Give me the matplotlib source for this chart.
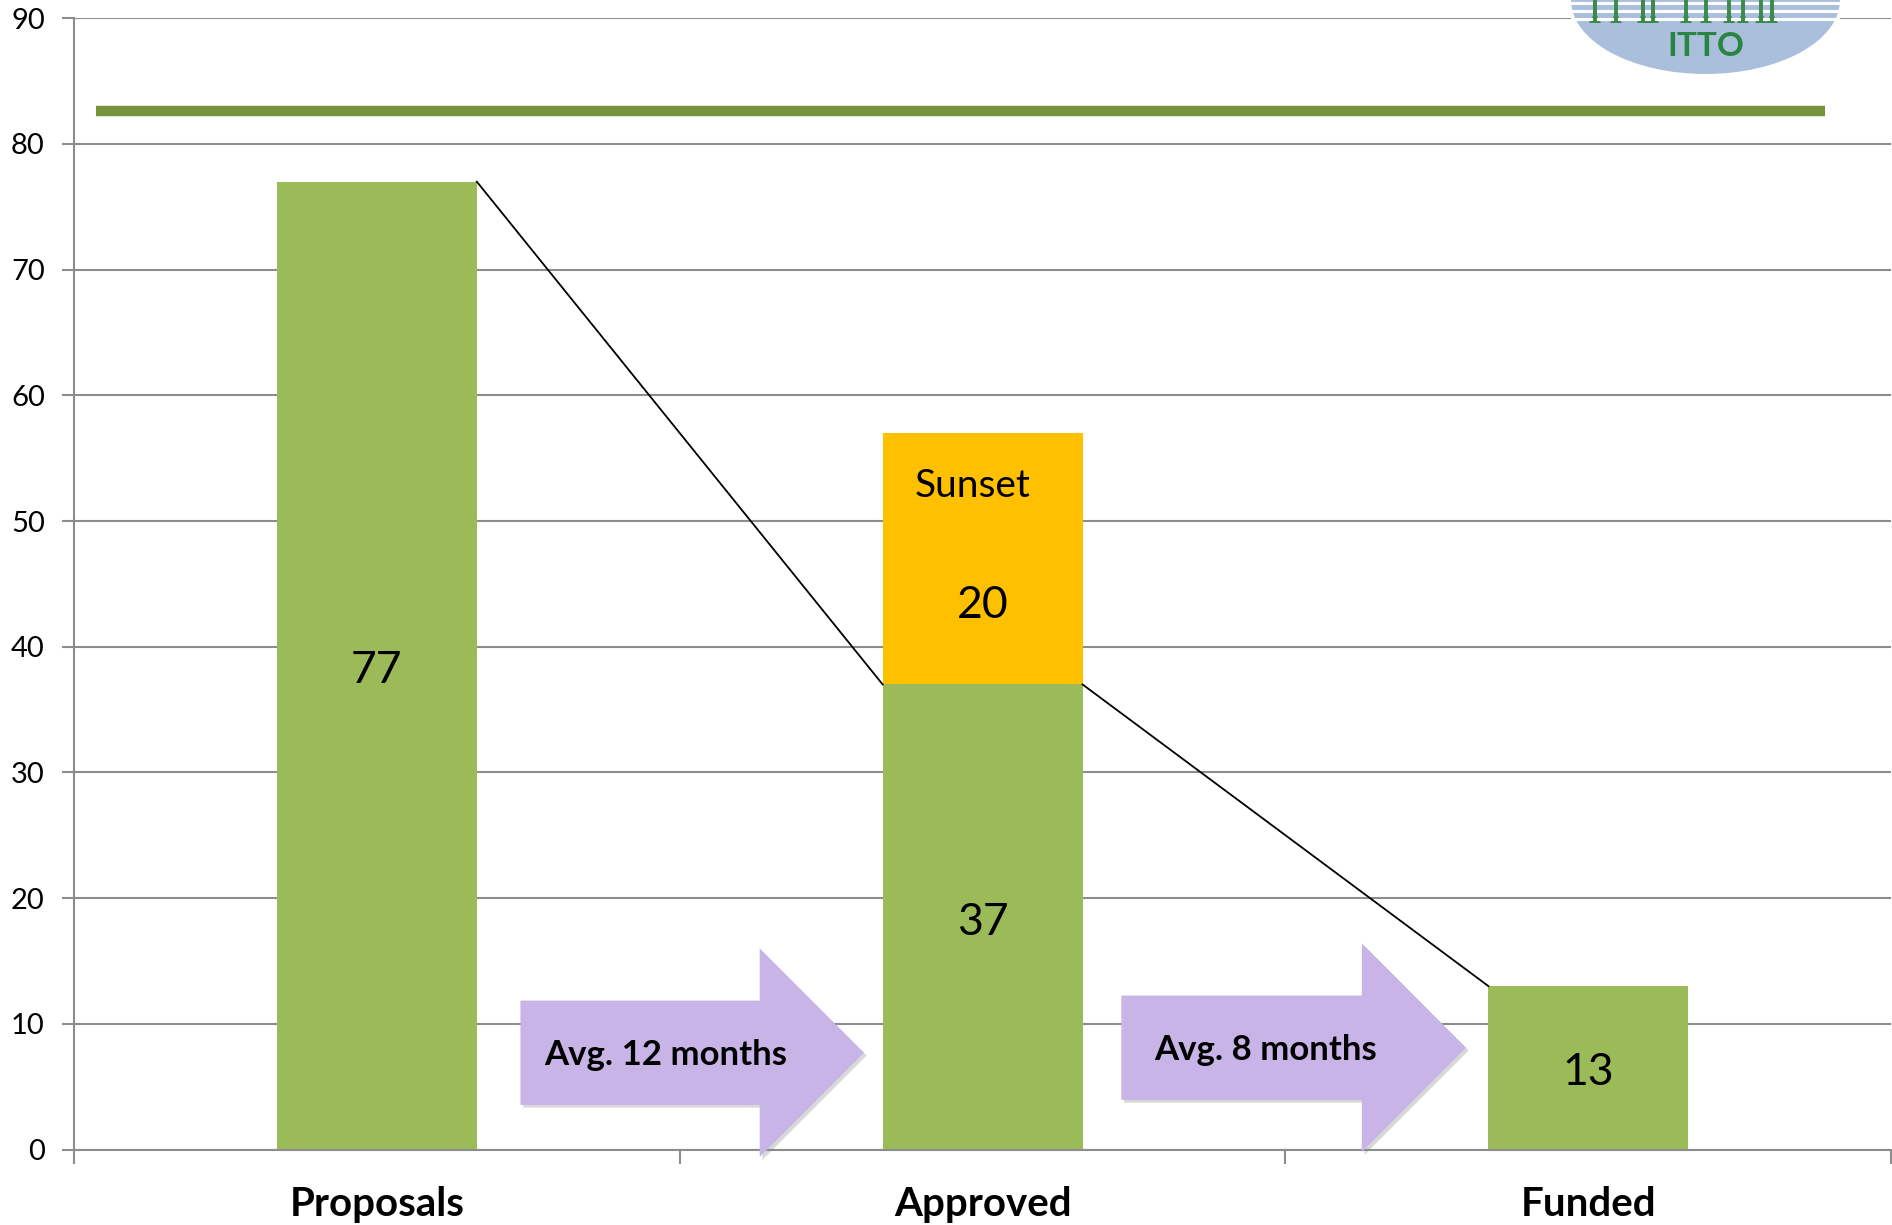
import matplotlib.pyplot as plt
import matplotlib.patheffects as pe
from matplotlib.patches import FancyArrow, Ellipse, Polygon
import numpy as np

plt.rcParams['font.family'] = ['Lato', 'DejaVu Sans']

# data
categories = ['Proposals', 'Approved', 'Funded']
green_vals = [77, 37, 13]
sunset_vals = [0, 20, 0]
ref_level = 82.6
arrow_labels = ['Avg. 12 months', 'Avg. 8 months']

GREEN = '#9BBB59'
ORANGE = '#FFC000'
DARKGREEN = '#77933C'
LILAC = '#C8B4E6'
GRID = '#8C8C8C'

fig = plt.figure(figsize=(18.92, 12.25), dpi=100)
ax = fig.add_axes([0.0391, 0.0616, 0.9605, 0.9235])

x = np.arange(len(categories))
bw = 0.33
ax.bar(x, green_vals, width=bw, color=GREEN, zorder=2)
ax.bar(x, sunset_vals, width=bw, bottom=green_vals, color=ORANGE, zorder=2)

# reference line on top
ax.plot([-0.463, 2.391], [ref_level, ref_level], color=DARKGREEN, lw=7.5,
        solid_capstyle='butt', zorder=3)

# connector lines between bar tops
for i in range(len(categories) - 1):
    ax.plot([x[i] + bw / 2, x[i + 1] - bw / 2], [green_vals[i], green_vals[i + 1]],
            color='black', lw=1.3, zorder=4)

# value labels
for i, v in enumerate(green_vals):
    ax.text(x[i], v / 2 - 0.4, str(v), ha='center', va='center', fontsize=32, zorder=5)
ax.text(x[1], green_vals[1] + 6.3, str(sunset_vals[1]), ha='center', va='center',
        fontsize=32, zorder=5)
ax.text(x[1] - 0.016, 52.8, 'Sunset', ha='center', va='center', fontsize=28, zorder=5)

# process arrows
arrows = [(0.237, 7.7, 0.567, 0.04), (1.229, 8.1, 0.569, 0.055)]
for (ax0, ay, adx, tpad), lab in zip(arrows, arrow_labels):
    arr = FancyArrow(ax0, ay, adx, 0, width=8.3, head_width=16.6, head_length=0.172,
                     length_includes_head=True, color=LILAC, lw=0, zorder=6, clip_on=False)
    arr.set_path_effects([pe.SimplePatchShadow(offset=(2, -2), shadow_rgbFace='#808080', alpha=0.3),
                          pe.Normal()])
    ax.add_patch(arr)
    ax.text(ax0 + tpad, ay - 0.2, lab, ha='left', va='center', fontsize=25,
            fontweight='bold', zorder=7)

ax.set_xlim(-0.5, 2.5)
ax.set_ylim(0, 90)
ax.set_yticks(range(0, 91, 10))
ax.yaxis.grid(True, color=GRID, lw=1.5, zorder=0)
ax.set_axisbelow(True)
ax.set_xticks([-0.5, 0.5, 1.5, 2.5])
ax.set_xticklabels([])
ax.set_xticks(x, minor=True)
ax.set_xticklabels(categories, minor=True, fontsize=29, fontweight='bold')
ax.tick_params(axis='x', which='minor', length=0, pad=26)
ax.tick_params(axis='x', which='major', length=10, width=1.5, color=GRID, direction='out')
ax.tick_params(axis='y', length=9, width=1.5, color=GRID, labelsize=21, pad=12)
for s in ['top', 'right']:
    ax.spines[s].set_visible(False)
for s in ['left', 'bottom']:
    ax.spines[s].set_color(GRID)
    ax.spines[s].set_linewidth(1.5)

# ITTO logo (top right corner)
lax = fig.add_axes([1571 / 1892, 1 - 74 / 1225, 269 / 1892, 74 / 1225])
lax.set_xlim(0, 269)
lax.set_ylim(0, 74)
lax.axis('off')
lax.add_patch(Ellipse((134.5, 74), 269, 148, color='#A9BFDC', lw=0))
for yy in [71, 63, 55]:
    lax.plot([0, 269], [yy, yy], color='white', lw=2.2)
tree_x = [24, 45, 72, 82, 115, 135, 158, 172, 190, 201]
for tx in tree_x:
    lax.plot([tx, tx], [74, 54], color='#3A8A4A', lw=2.8)
    lax.add_patch(Polygon([[tx - 6, 51], [tx + 6, 51], [tx, 62]], color='#3A8A4A', lw=0))
lax.text(134.5, 28, 'ITTO', ha='center', va='center', fontsize=24, fontweight='bold',
         color='#2A8442')

fig.savefig('out.png', dpi=100)
